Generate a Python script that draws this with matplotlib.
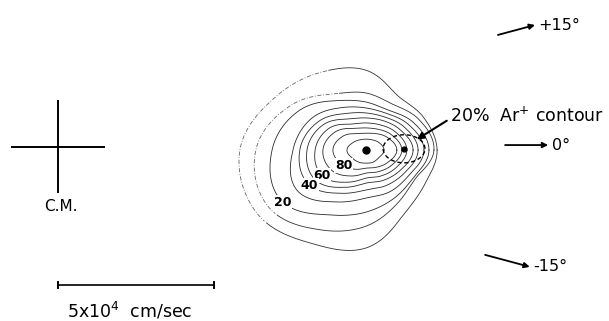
import numpy as np
import matplotlib
matplotlib.use("Agg")
import matplotlib.pyplot as plt

# Velocity-space map of Ar+ product flux, units of 10^3 cm/sec, C.M. at origin.
PEAK = (98.7, -1.0)
AR_CENTER = (110.9, -0.6)
AR_HALF = (6.7, 4.5)

# contour radii about the peak, sampled every 30 deg (0 = forward, CCW)
ANGLES = np.arange(0, 360, 30)
R90 = [5.8, 4.8, 3.8, 3.5, 3.8, 4.8, 6.1, 5.1, 4.5, 4.2, 4.5, 4.8]
R80 = [9.9, 8.0, 6.1, 5.4, 6.1, 8.7, 10.6, 9.0, 7.1, 5.8, 6.4, 8.0]
R70 = [11.5, 9.6, 7.7, 7.1, 8.0, 11.5, 13.8, 12.8, 9.6, 7.4, 8.0, 9.6]
R60 = [13.1, 11.2, 9.3, 8.7, 9.6, 13.8, 16.3, 16.3, 11.9, 9.0, 9.6, 11.2]
R50 = [15.1, 12.8, 10.9, 10.3, 11.5, 16.0, 18.9, 18.9, 13.8, 10.6, 11.2, 12.8]
R40 = [16.7, 14.4, 12.2, 11.9, 13.5, 17.9, 21.2, 21.5, 16.0, 12.8, 13.1, 14.4]
R30 = [18.6, 16.0, 13.5, 13.5, 15.7, 20.2, 23.4, 25.6, 19.2, 15.4, 15.4, 16.0]
R20 = [20.2, 17.6, 14.7, 15.4, 18.3, 25.0, 30.1, 31.7, 24.0, 19.9, 17.9, 17.6]
R10 = [21.8, 19.6, 17.0, 18.3, 20.8, 28.2, 35.3, 36.2, 29.5, 24.4, 19.9, 18.3]
R05 = [22.8, 21.2, 20.2, 25.6, 28.8, 33.7, 40.4, 40.4, 34.6, 31.4, 24.0, 21.8]
LEVELS = [90, 80, 70, 60, 50, 40, 30, 20, 10, 5]

LABELED = [80, 60, 40, 20]
LABEL_ANGLES = [215, 210, 212, 212]

# lab-frame direction markers
LAB_ANGLES = [15, 0, -15]
LAB_X0 = [141.0, 143.3, 136.9]
LAB_Y0 = [35.9, 0.6, -34.6]
LAB_LEN = [12.3, 13.8, 14.8]

SCALE_LEN = 50  # 5x10^4 cm/sec
CM_HALF = 14.6

FONT = "DejaVu Sans"
plt.rcParams["font.family"] = FONT


def closed_curve(radii, n=24):
    """Periodic Catmull-Rom through r(theta), returns x, y about the peak."""
    r = np.asarray(radii, float)
    k = len(r)
    t = np.linspace(0, 1, n, endpoint=False)
    segs = []
    for i in range(k):
        p0, p1, p2, p3 = r[i - 1], r[i], r[(i + 1) % k], r[(i + 2) % k]
        segs.append(0.5 * (2 * p1 + (-p0 + p2) * t
                           + (2 * p0 - 5 * p1 + 4 * p2 - p3) * t ** 2
                           + (-p0 + 3 * p1 - 3 * p2 + p3) * t ** 3))
    rr = np.concatenate(segs)
    th = np.linspace(0, 2 * np.pi, k * n, endpoint=False)
    rr = np.append(rr, rr[0])
    th = np.append(th, 2 * np.pi)
    return PEAK[0] + rr * np.cos(th), PEAK[1] + rr * np.sin(th), th, rr


fig = plt.figure(figsize=(6.09, 3.21), dpi=100)
ax = fig.add_axes([0, 0, 1, 1])
ax.set_xlim(-18.6, 176.6)
ax.set_ylim(-55.8, 47.1)
ax.axis("off")

radii_sets = [R90, R80, R70, R60, R50, R40, R30, R20, R10, R05]
curves = {}
for lev, rad in zip(LEVELS, radii_sets):
    x, y, th, rr = closed_curve(rad)
    curves[lev] = (th, rr)
    if lev in (10, 5):
        # faint outer contours, broken on the backward side
        deg = np.degrees(th)
        back = (deg > 115) & (deg < 215)
        ax.plot(np.where(back, np.nan, x), np.where(back, np.nan, y),
                color="#333333", lw=0.6)
        ax.plot(np.where(back, x, np.nan), np.where(back, y, np.nan),
                color="#666666", lw=0.6, dashes=(5, 2, 1, 2))
    else:
        ax.plot(x, y, color="#2a2a2a", lw=0.6)

for lev, ang in zip(LABELED, LABEL_ANGLES):
    th, rr = curves[lev]
    r = np.interp(np.radians(ang), th, rr)
    lx = PEAK[0] + r * np.cos(np.radians(ang))
    ly = PEAK[1] + r * np.sin(np.radians(ang))
    ax.text(lx, ly, str(lev), ha="center", va="center", fontsize=9,
            fontweight="bold", zorder=5,
            bbox=dict(boxstyle="square,pad=0.05", fc="white", ec="none"))

# peak and Ar+ centre dots
ax.plot(*PEAK, "o", color="black", ms=5, zorder=6)
ax.plot(*AR_CENTER, "o", color="black", ms=3.5, zorder=6)

# 20% Ar+ contour (dashed)
t = np.linspace(0, 2 * np.pi, 200)
ax.plot(AR_CENTER[0] + AR_HALF[0] * np.cos(t),
        AR_CENTER[1] + AR_HALF[1] * np.sin(t),
        color="black", lw=1.0, dashes=(3, 2), zorder=4)

ax.annotate("", xy=(115.0, 2.4), xytext=(124.6, 8.4),
            arrowprops=dict(arrowstyle="-|>", lw=1.5, color="black",
                            mutation_scale=10, shrinkA=0, shrinkB=0))
ax.text(125.6, 10.0, "20%  Ar$^{+}$ contour", ha="left", va="center",
        fontsize=12.5)

# lab angle arrows
for ang, x0, y0, ln in zip(LAB_ANGLES, LAB_X0, LAB_Y0, LAB_LEN):
    x1 = x0 + ln * np.cos(np.radians(ang))
    y1 = y0 + ln * np.sin(np.radians(ang))
    ax.annotate("", xy=(x1, y1), xytext=(x0, y0),
                arrowprops=dict(arrowstyle="-|>", lw=1.3, color="black",
                                mutation_scale=8, shrinkA=0, shrinkB=0))
    lab = f"+{ang}°" if ang > 0 else f"{ang}°"
    ax.text(x1 + 1.2, y1, lab, ha="left", va="center", fontsize=11.5)

# centre-of-mass cross
ax.plot([-CM_HALF, CM_HALF], [0, 0], color="black", lw=1.4)
ax.plot([0, 0], [-CM_HALF, CM_HALF], color="black", lw=1.4)
ax.text(1.0, -19.2, "C.M.", ha="center", va="center", fontsize=11)

# velocity scale bar
ys = -44.2
ax.plot([0, SCALE_LEN], [ys, ys], color="black", lw=1.2)
for xe in (0, SCALE_LEN):
    ax.plot([xe, xe], [ys - 1.0, ys + 1.0], color="black", lw=1.4)
ax.text(SCALE_LEN / 2 - 2, -52.6, "5x10$^4$  cm/sec", ha="center",
        va="center", fontsize=12.5)

fig.savefig("out.png", dpi=100, facecolor="white")
